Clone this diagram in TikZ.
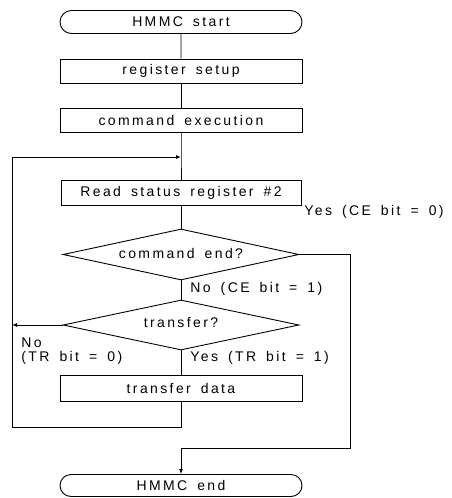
\documentclass[tikz,border=0pt]{standalone}
\usepackage{fontspec}
\setmainfont{Liberation Sans}[LetterSpace=17, WordSpace=1.6]
\usetikzlibrary{shapes.misc,shapes.geometric,arrows.meta}
\begin{document}
\begin{tikzpicture}[x=1pt,y=-1pt, line width=0.9pt, font=\fontsize{14}{16}\selectfont,
 box/.style={draw, rectangle, minimum width=242pt, minimum height=24pt, inner sep=0pt},
 term/.style={draw, rounded rectangle, minimum width=242pt, minimum height=23pt, inner sep=0pt},
 dec/.style={draw, diamond, aspect=4.6, minimum width=236pt, minimum height=51pt, inner sep=0pt},
 lbl/.style={anchor=west, inner sep=0pt},
 arr/.style={-{Latex[length=5pt,width=4pt]}}]
\path[use as bounding box] (0,0) rectangle (451,498);
\node[term] (start) at (181,22) {HMMC start};
\node[box] (setup) at (181,71) {register setup};
\node[box] (exec) at (181,120) {command execution};
\coordinate (merge) at (181,157);
\node[box, minimum width=240pt, minimum height=25pt] (read) at (181,192.5) {Read status register \#2};
\node[dec] (d1) at (181,254.5) {\raisebox{2pt}{command end?}};
\node[dec, minimum height=50pt] (d2) at (181,325) {\raisebox{6pt}{transfer?}};
\node[box, minimum height=26pt] (xfer) at (181,388) {transfer data};
\node[term, minimum height=22pt] (end) at (181,485.5) {HMMC end};
\coordinate (loopbl) at (12,427);
\coordinate (noleft) at (12,325);
\coordinate (yb) at (350,448);

\draw (start) -- (setup);
\draw (setup) -- (exec);
\draw (exec.south) -- (merge) -- (read.north);
\draw (read) -- (d1);
\draw (d1.south) -- (d2.north);
\draw (d2.south) -- (xfer.north);
\draw[arr] (xfer.south) |- (loopbl) |- (merge);
\draw[arr] (d2.west) -- (noleft);
\draw[arr] (d1.east) -| (yb) -| (end.north);

\node[lbl] (lyes1) at (304,212) {Yes (CE bit = 0)};
\node[lbl] (lno1) at (190,289) {No (CE bit = 1)};
\node[lbl] (lno2a) at (21,343) {No};
\node[lbl] (lno2b) at (21,358) {(TR bit = 0)};
\node[lbl] (lyes2) at (190,358) {Yes (TR bit = 1)};
\end{tikzpicture}
\end{document}
